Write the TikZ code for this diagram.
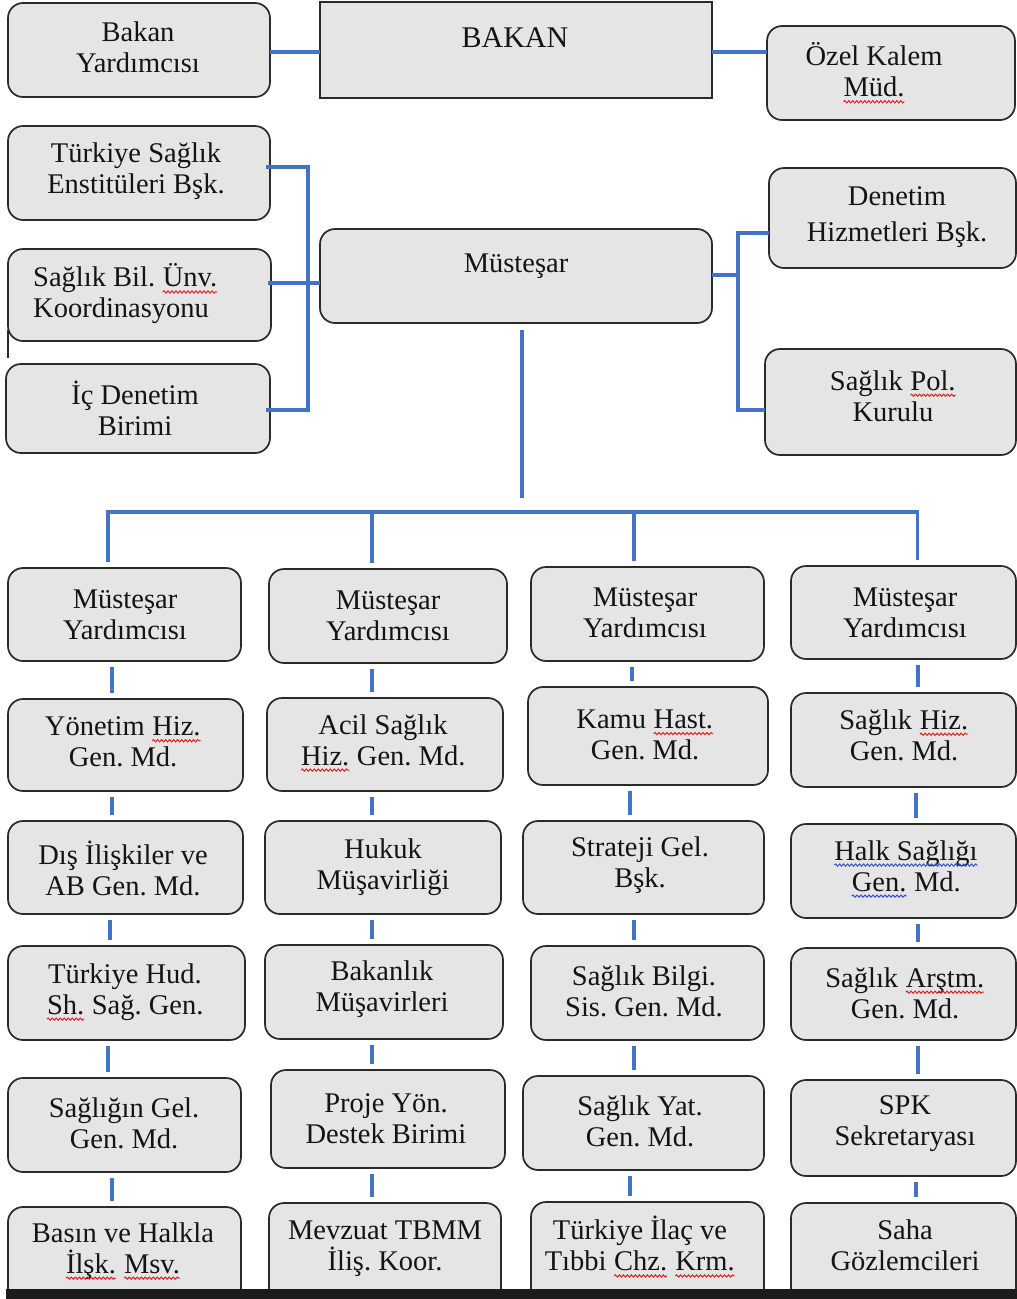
\documentclass[tikz,border=0pt]{standalone}
\usepackage{fontspec}
\setmainfont{Liberation Serif}
\usetikzlibrary{calc,decorations.pathmorphing}
\frenchspacing
\definecolor{connblue}{HTML}{4472C4}
\definecolor{boxfill}{HTML}{E5E5E5}
\definecolor{boxdraw}{HTML}{2A2A2A}
\definecolor{sqred}{HTML}{E02020}
\definecolor{sqblue}{HTML}{3050D0}
\definecolor{band}{HTML}{1C1C1C}
\tikzset{
  bxs/.style={draw=boxdraw, fill=boxfill, line width=1.7pt, rounded corners=15pt, inner sep=0pt, outer sep=0pt},
  sharpbox/.style={draw=boxdraw, fill=boxfill, line width=1.7pt, inner sep=0pt, outer sep=0pt},
  txt/.style={align=center, inner sep=0pt, text=black!92, font=\fontsize{28.5}{31}\selectfont},
  conn/.style={draw=connblue, line width=3.4pt},
  bord/.style={draw=boxdraw, line width=1.7pt},
  wavy/.style={line width=1pt, decorate, decoration={snake, amplitude=1.1pt, segment length=4pt}}
}
\newcommand\sqw[2]{\tikz[baseline=(w.base)]{\node[inner sep=0pt, outer sep=0pt, anchor=base] (w) {#2};
  \draw[wavy, draw=#1] ([yshift=-5pt]w.base west) -- ([yshift=-5pt]w.base east);}}
\newcommand\sqr[1]{\sqw{sqred}{#1}}
\newcommand\sqb[1]{\sqw{sqblue}{#1}}
% name, x1, y1, x2, y2, tx, ty, text
\newcommand\bx[8]{%
  \node[bxs, minimum width={#4-#2}, minimum height={#5-#3}] (#1) at ({(#2+#4)/2},{(#3+#5)/2}) {};
  \node[txt] (#1t) at (#6,#7) {#8};}
\newcommand\vcon[3]{\draw[conn] let \p1=(#1.south), \p2=(#2.north) in (#3pt,\y1-6pt) -- (#3pt,\y2+6pt);}
\begin{document}
\begin{tikzpicture}[x=1pt,y=-1pt]
\clip (0,0) rectangle (1017,1299);
\fill[white] (0,0) rectangle (1017,1299);

% top row
\bx{by}{8}{3}{270}{97}{138}{47}{Bakan\\Yardımcısı}
\node[sharpbox, minimum width=392, minimum height=96] (bk) at (516,50) {};
\node[txt, font=\fontsize{30}{33}\selectfont] (bkt) at (515,38) {BAKAN};
\bx{oz}{767}{26}{1015}{120}{874}{73}{Özel Kalem\\\sqr{Müd.}}

% left group
\bx{ts}{8}{126}{270}{220}{136}{171}{Türkiye Sağlık\\Enstitüleri Bşk.}
\node[bxs, minimum width=263, minimum height=92] (sb) at (139.5,295) {};
\node[txt, align=left, anchor=west] (sbt) at (33,294) {Sağlık Bil. \sqr{Ünv.}\\Koordinasyonu};
\bx{ic}{6}{364}{270}{453}{135}{408}{İç Denetim\\Birimi}

% Müsteşar
\node[bxs, minimum width=392, minimum height=94] (ms) at (516,276) {};
\node[txt] (mst) at (516,266) {Müsteşar};

% right group
\bx{dh}{769}{168}{1016}{268}{897}{217}{Denetim\\[5pt]Hizmetleri Bşk.}
\bx{sp}{765}{349}{1016}{455}{893}{396}{Sağlık \sqr{Pol.}\\Kurulu}

% row 1
\bx{r1c1}{8}{568}{241}{661}{125}{615}{Müsteşar\\Yardımcısı}
\bx{r1c2}{269}{569}{507}{663}{388}{616}{Müsteşar\\Yardımcısı}
\bx{r1c3}{531}{567}{764}{661}{645}{613}{Müsteşar\\Yardımcısı}
\bx{r1c4}{791}{566}{1016}{659}{905}{613}{Müsteşar\\Yardımcısı}
% row 2
\bx{r2c1}{8}{699}{243}{791}{123}{742}{Yönetim \sqr{Hiz.}\\Gen. Md.}
\bx{r2c2}{267}{698}{503}{791}{383}{743}{Acil Sağlık\\\sqr{Hiz.} Gen. Md.}
\bx{r2c3}{528}{687}{768}{785}{645}{735}{Kamu \sqr{Hast.}\\Gen. Md.}
\bx{r2c4}{791}{693}{1016}{787}{904}{735}{Sağlık \sqr{Hiz.}\\Gen. Md.}
% row 3
\bx{r3c1}{8}{821}{243}{914}{123}{868}{Dış İlişkiler ve\\AB Gen. Md.}
\bx{r3c2}{265}{821}{501}{914}{383}{867}{Hukuk\\Müşavirliği}
\bx{r3c3}{523}{821}{764}{914}{640}{865}{Strateji Gel.\\Bşk.}
\bx{r3c4}{791}{824}{1016}{918}{906}{869}{\sqb{Halk Sağlığı}\\\sqb{Gen.} Md.}
% row 4
\bx{r4c1}{8}{946}{245}{1040}{125}{992}{Türkiye Hud.\\\sqr{Sh.} Sağ. Gen.}
\bx{r4c2}{265}{945}{503}{1039}{382}{989}{Bakanlık\\Müşavirleri}
\bx{r4c3}{531}{946}{764}{1040}{644}{991}{Sağlık Bilgi.\\Sis. Gen. Md.}
\bx{r4c4}{791}{948}{1016}{1040}{905}{993}{Sağlık \sqr{Arştm.}\\Gen. Md.}
% row 5
\bx{r5c1}{8}{1078}{241}{1172}{124}{1123}{Sağlığın Gel.\\Gen. Md.}
\bx{r5c2}{271}{1070}{505}{1168}{386}{1119}{Proje Yön.\\Destek Birimi}
\bx{r5c3}{523}{1076}{764}{1170}{640}{1121}{Sağlık Yat.\\Gen. Md.}
\bx{r5c4}{791}{1080}{1016}{1176}{905}{1124}{SPK\\Sekretaryası}
% row 6
\bx{r6c1}{8}{1207}{241}{1320}{123}{1251}{Basın ve Halkla\\\sqr{İlşk.} \sqr{Msv.}}
\bx{r6c2}{269}{1203}{501}{1320}{385}{1249}{Mevzuat TBMM\\İliş. Koor.}
\bx{r6c3}{531}{1202}{764}{1320}{640}{1247}{Türkiye İlaç ve\\Tıbbi \sqr{Chz.} \sqr{Krm.}}
\bx{r6c4}{791}{1203}{1016}{1320}{905}{1245}{Saha\\Gözlemcileri}

% stray edge mark
\draw[bord] ([yshift=11pt]sb.south west) -- ++(0,28);

% top connectors
\draw[conn] ([yshift=-2pt]by.east) -- ([yshift=-2pt]bk.west);
\draw[conn] let \p1=(bk.east), \p2=(oz.west) in ([yshift=-2pt]bk.east) -- (\x2,\y1-2pt);

% left bracket
\draw[conn] ([xshift=-4pt,yshift=6pt]ts.east) -| ([xshift=38pt,yshift=-1.5pt]ic.east) -- ([xshift=-4pt,yshift=-1.5pt]ic.east);
\draw[conn] let \p1=([xshift=-3pt,yshift=12pt]sb.east), \p2=(ms.west) in (\p1) -- (\x2,\y1);

% right bracket
\draw[conn] ([yshift=1pt]ms.east) -- ++(26,0);
\draw[conn] let \p1=(ms.east), \p2=([yshift=-15pt]dh.west), \p3=([yshift=-8pt]sp.west) in
  (\p2) -- (\x1+26pt,\y2) -- (\x1+26pt,\y3) -- (\p3);

% main drop and bus
\draw[conn] ([xshift=6pt,yshift=-7pt]ms.south) -- ++(0,168);
\draw[conn] ([xshift=-16.5pt,yshift=6pt]r1c1.north) -- ++(0,-50) -| ([xshift=14pt,yshift=6pt]r1c4.north);
\draw[conn] ([xshift=-16pt,yshift=6pt]r1c2.north) -- ++(0,-51);
\draw[conn] ([xshift=-13.5pt,yshift=6pt]r1c3.north) -- ++(0,-49);

% column connectors
\vcon{r1c1}{r2c1}{112}\vcon{r1c2}{r2c2}{372}\vcon{r1c3}{r2c3}{632}\vcon{r1c4}{r2c4}{918}
\vcon{r2c1}{r3c1}{112}\vcon{r2c2}{r3c2}{372}\vcon{r2c3}{r3c3}{630}\vcon{r2c4}{r3c4}{916}
\vcon{r3c1}{r4c1}{110}\vcon{r3c2}{r4c2}{372}\vcon{r3c3}{r4c3}{634}\vcon{r3c4}{r4c4}{918}
\vcon{r4c1}{r5c1}{108}\vcon{r4c2}{r5c2}{372}\vcon{r4c3}{r5c3}{634}\vcon{r4c4}{r5c4}{918}
\vcon{r5c1}{r6c1}{112}\vcon{r5c2}{r6c2}{372}\vcon{r5c3}{r6c3}{630}\vcon{r5c4}{r6c4}{916}

% bottom band
\fill[band] (6,1289) rectangle (1017,1299);
\end{tikzpicture}
\end{document}
